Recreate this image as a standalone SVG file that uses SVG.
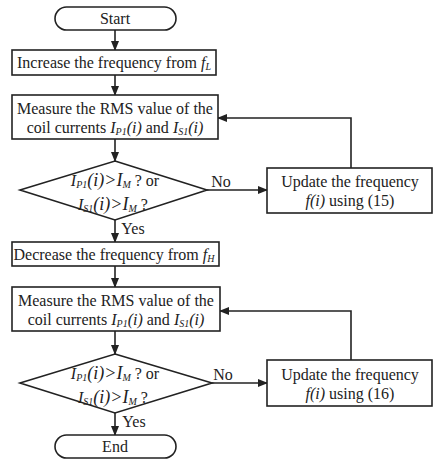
<svg xmlns="http://www.w3.org/2000/svg" width="436" height="462" viewBox="0 0 436 462">
<style>
.b{fill:#fff;stroke:#222;stroke-width:1.6}
.t{font-family:"Liberation Serif","Times New Roman",serif;font-size:16px;fill:#222;text-anchor:middle}
.i{font-style:italic}
.s{font-size:10px;font-style:italic}
.c{fill:none;stroke:#222;stroke-width:1.6}
</style>
<defs>
<marker id="a" markerWidth="10" markerHeight="8" refX="9" refY="4" orient="auto" markerUnits="userSpaceOnUse">
<path d="M0,0 L10,4 L0,8 z" fill="#222"/>
</marker>
</defs>
<g id="connectors">
<line class="c" x1="115" y1="30" x2="115" y2="50" marker-end="url(#a)"/>
<line class="c" x1="115" y1="75" x2="115" y2="95" marker-end="url(#a)"/>
<line class="c" x1="115" y1="139" x2="115" y2="161" marker-end="url(#a)"/>
<line class="c" x1="207" y1="190" x2="267" y2="190" marker-end="url(#a)"/>
<polyline class="c" points="351,168 351,118 218,118" marker-end="url(#a)"/>
<line class="c" x1="115" y1="220" x2="115" y2="242" marker-end="url(#a)"/>
<line class="c" x1="115" y1="266" x2="115" y2="287" marker-end="url(#a)"/>
<line class="c" x1="115" y1="331" x2="115" y2="354" marker-end="url(#a)"/>
<line class="c" x1="212" y1="383" x2="267" y2="383" marker-end="url(#a)"/>
<polyline class="c" points="351,360 351,311 220,311" marker-end="url(#a)"/>
<line class="c" x1="115" y1="413" x2="115" y2="435" marker-end="url(#a)"/>
<text class="t" x="221" y="187">No</text>
<text class="t" x="223" y="380">No</text>
<text class="t" x="133" y="234">Yes</text>
<text class="t" x="134" y="427">Yes</text>
</g>
<g id="start">
<rect class="b" x="55" y="7" width="121" height="23" rx="11.5"/>
<text class="t" x="115" y="24">Start</text>
</g>
<g id="increase">
<rect class="b" x="12" y="50" width="204" height="25"/>
<text class="t" x="114" y="68">Increase the frequency from <tspan class="i">f</tspan><tspan class="s" dy="2">L</tspan></text>
</g>
<g id="measure1">
<rect class="b" x="12" y="95" width="206" height="44"/>
<text class="t" x="115" y="114">Measure the RMS value of the</text>
<text class="t" x="115" y="133">coil currents <tspan class="i">I</tspan><tspan class="s" dy="2">P1</tspan><tspan class="i" dy="-2">(i)</tspan> and <tspan class="i">I</tspan><tspan class="s" dy="2">S1</tspan><tspan class="i" dy="-2">(i)</tspan></text>
</g>
<g id="decision1">
<polygon class="b" points="115,161 207,190 115,220 20,190"/>
<text class="t" x="115" y="186"><tspan class="i">I</tspan><tspan class="s" dy="2">P1</tspan><tspan class="i" dy="-2" font-size="18">(i)&gt;I</tspan><tspan class="s" dy="2">M</tspan><tspan dy="-2"> ? or</tspan></text>
<text class="t" x="113" y="210"><tspan class="i">I</tspan><tspan class="s" dy="2">S1</tspan><tspan class="i" dy="-2" font-size="18">(i)&gt;I</tspan><tspan class="s" dy="2">M</tspan><tspan dy="-2"> ?</tspan></text>
</g>
<g id="update1">
<rect class="b" x="267" y="168" width="165" height="45"/>
<text class="t" x="350" y="187">Update the frequency</text>
<text class="t" x="350" y="206"><tspan class="i">f(i)</tspan> using (15)</text>
</g>
<g id="decrease">
<rect class="b" x="12" y="242" width="207" height="24"/>
<text class="t" x="114" y="260">Decrease the frequency from <tspan class="i">f</tspan><tspan class="s" dy="2">H</tspan></text>
</g>
<g id="measure2">
<rect class="b" x="12" y="287" width="208" height="44"/>
<text class="t" x="116" y="306">Measure the RMS value of the</text>
<text class="t" x="116" y="325">coil currents <tspan class="i">I</tspan><tspan class="s" dy="2">P1</tspan><tspan class="i" dy="-2">(i)</tspan> and <tspan class="i">I</tspan><tspan class="s" dy="2">S1</tspan><tspan class="i" dy="-2">(i)</tspan></text>
</g>
<g id="decision2">
<polygon class="b" points="115,354 212,383 115,413 20,383"/>
<text class="t" x="115" y="379"><tspan class="i">I</tspan><tspan class="s" dy="2">P1</tspan><tspan class="i" dy="-2" font-size="18">(i)&gt;I</tspan><tspan class="s" dy="2">M</tspan><tspan dy="-2"> ? or</tspan></text>
<text class="t" x="113" y="403"><tspan class="i">I</tspan><tspan class="s" dy="2">S1</tspan><tspan class="i" dy="-2" font-size="18">(i)&gt;I</tspan><tspan class="s" dy="2">M</tspan><tspan dy="-2"> ?</tspan></text>
</g>
<g id="update2">
<rect class="b" x="267" y="360" width="165" height="46"/>
<text class="t" x="350" y="380">Update the frequency</text>
<text class="t" x="350" y="399"><tspan class="i">f(i)</tspan> using (16)</text>
</g>
<g id="end">
<rect class="b" x="55" y="435" width="121" height="23" rx="11.5"/>
<text class="t" x="115" y="452">End</text>
</g>
</svg>
